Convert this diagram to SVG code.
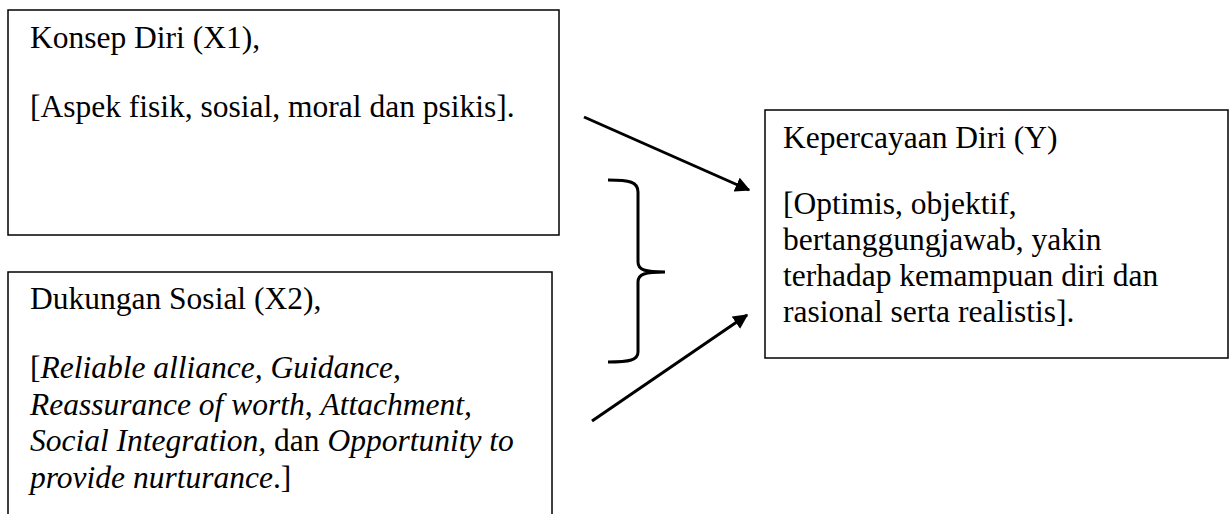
<svg xmlns="http://www.w3.org/2000/svg" width="1229" height="514" viewBox="0 0 1229 514">
<defs>
<style>
.box{fill:#fff;stroke:#000;stroke-width:1.5}
.t{font-family:"Liberation Serif","Times New Roman",serif;font-size:31.5px;fill:#000}
.i{font-style:italic}
.c{stroke:#000;stroke-width:3;fill:none}
</style>
<marker id="ah" viewBox="0 0 10 10" refX="9" refY="5" markerWidth="5" markerHeight="5" orient="auto" markerUnits="strokeWidth">
<path d="M0,0 L10,5 L0,10 z" fill="#000"/>
</marker>
</defs>
<rect width="1229" height="514" fill="#fff"/>
<g id="node-x1">
<rect class="box" x="8" y="10" width="551" height="225"/>
<text class="t" x="30" y="48">Konsep Diri (X1),</text>
<text class="t" x="30" y="117">[Aspek fisik, sosial, moral dan psikis].</text>
</g>
<g id="node-x2">
<rect class="box" x="8" y="272" width="544" height="260"/>
<text class="t" x="30" y="309">Dukungan Sosial (X2),</text>
<text class="t" x="30" y="378">[<tspan class="i">Reliable alliance, Guidance,</tspan></text>
<text class="t i" x="30" y="414.5">Reassurance of worth<tspan font-style="normal">, </tspan>Attachment,</text>
<text class="t" x="30" y="451"><tspan class="i">Social Integration,</tspan> dan <tspan class="i">Opportunity to</tspan></text>
<text class="t" x="30" y="487.5"><tspan class="i">provide nurturance</tspan>.]</text>
</g>
<g id="node-y">
<rect class="box" x="765" y="110" width="463" height="248"/>
<text class="t" x="783" y="148">Kepercayaan Diri (Y)</text>
<text class="t" x="783" y="214">[Optimis, objektif,</text>
<text class="t" x="783" y="250">bertanggungjawab, yakin</text>
<text class="t" x="783" y="286">terhadap kemampuan diri dan</text>
<text class="t" x="783" y="322">rasional serta realistis].</text>
</g>
<g id="connectors">
<line class="c" x1="584" y1="117" x2="749" y2="190" marker-end="url(#ah)"/>
<line class="c" x1="592" y1="421" x2="747" y2="315" marker-end="url(#ah)"/>
<path class="c" d="M608,180 C630,180 638,182 638,192 L638,262 C638,270 645,272 665,272 C645,272 638,274 638,282 L638,352 C638,360 630,362 608,362"/>
</g>
</svg>
